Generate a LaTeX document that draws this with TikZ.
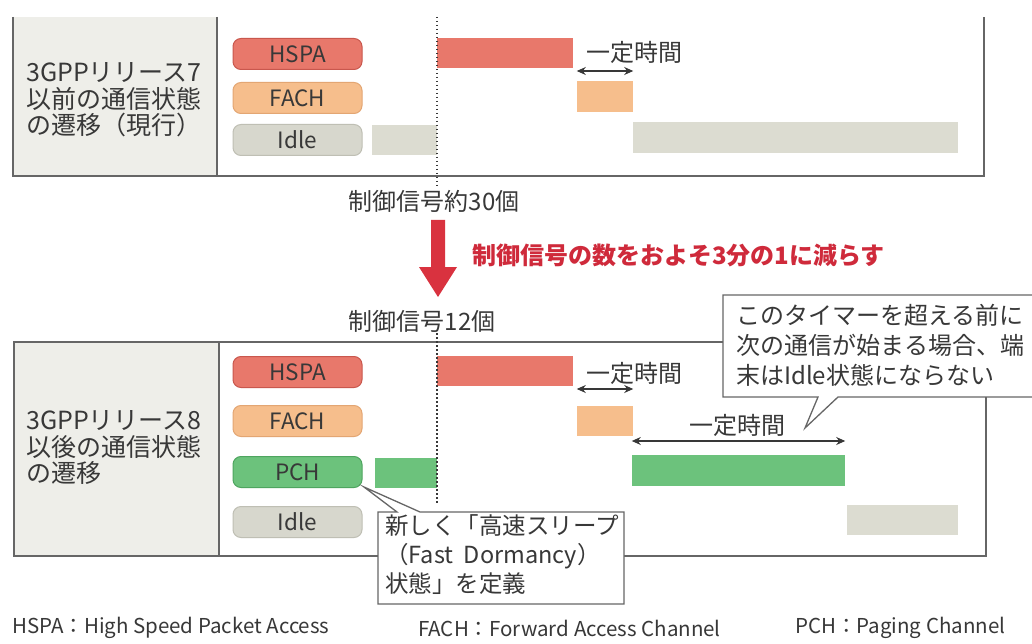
\documentclass[tikz,border=0pt]{standalone}
\usepackage{fontspec}
\setmainfont{Noto Sans CJK JP}
\usetikzlibrary{arrows.meta}
\newcommand\myfs[2]{\fontsize{#1}{#2}\selectfont}
\definecolor{txt}{HTML}{383838}
\definecolor{hspaC}{HTML}{E8786B}
\definecolor{hspaD}{HTML}{C9574D}
\definecolor{fachC}{HTML}{F6BE8C}
\definecolor{fachD}{HTML}{E3A673}
\definecolor{pchC}{HTML}{6CC27C}
\definecolor{pchD}{HTML}{4EA55F}
\definecolor{idleC}{HTML}{D7D7CD}
\definecolor{idleD}{HTML}{BFBFB4}
\definecolor{idleB}{HTML}{DCDCD1}
\definecolor{labelbg}{HTML}{EEEEE9}
\definecolor{frame}{HTML}{666666}
\definecolor{redA}{HTML}{D9323F}
\definecolor{redT}{HTML}{CF2A3B}
\begin{document}
\begin{tikzpicture}[x=1pt,y=-1pt,
  frameline/.style={draw=frame, line width=1.4pt},
  dotline/.style={draw=txt, line width=1.3pt, dash pattern=on 1.5pt off 2.5pt},
  chip/.style={rounded corners=8pt, minimum width=129pt, minimum height=31pt, inner sep=0pt, line width=1pt, font=\myfs{22.5}{22.5}, text=txt},
  bar/.style={inner sep=0pt, draw=none},
  lbl/.style={align=left, font=\myfs{25}{26.5}, text=txt, inner sep=0pt},
  jt/.style={font=\myfs{24}{28}, text=txt, inner sep=0pt},
  redtext/.style={font=\bfseries\myfs{24}{28}, text=redT, inner sep=0pt},
  dbl/.style={{Stealth[length=9pt,width=8pt]}-{Stealth[length=9pt,width=8pt]}, draw=txt, line width=1.1pt},
  callout/.style={draw=frame, fill=white, line width=1.3pt, line join=miter},
  foot/.style={font=\myfs{20.5}{22}, text=txt, inner sep=0pt}
]
\useasboundingbox (0,0) rectangle (1032,644);
\clip (0,0) rectangle (1032,644);
\fill[white] (0,0) rectangle (1032,644);

% ---------- top panel ----------
\fill[labelbg] (13,17) rectangle (217,176);
\draw[frameline] (13,17) -- (13,176) -- (984,176) -- (984,17);
\draw[frameline] (217,17) -- (217,176);
\node[lbl, anchor=west] (tlabel) at (26,100) {3GPPリリース7\\以前の通信状態\\の遷移（現行）};

\node[chip, fill=hspaC, draw=hspaD] (tc-hspa) at (297.5,54) {HSPA};
\node[chip, fill=fachC, draw=fachD] (tc-fach) at (297.5,98) {FACH};
\node[chip, fill=idleC, draw=idleD] (tc-idle) at (297.5,140) {Idle};

\node[bar, fill=idleB, minimum width=65pt, minimum height=30pt] (t-idle1) at (404.5,140) {};
\node[bar, fill=hspaC, minimum width=136pt, minimum height=30pt] (t-hspa) at (505,53) {};
\node[bar, fill=fachC, minimum width=56pt, minimum height=31pt] (t-fach) at (605,96.5) {};
\node[bar, fill=idleB, minimum width=325pt, minimum height=31pt] (t-idle2) at (795.5,138) {};

\draw[dotline] (437,17) -- (437,187);
\draw[dbl] (t-fach.west |- 0,71) -- (t-fach.east |- 0,71);
\node[jt] (t-time) at (634,52) {一定時間};

% ---------- middle ----------
\node[jt] (sig30) at (434,201) {制御信号約30個};
\fill[redA] (431,220) -- (445,220) -- (445,267) -- (457,267) -- (438,297) -- (419,267) -- (431,267) -- cycle;
\node[redtext, anchor=west] (reduce) at (472,255) {制御信号の数をおよそ3分の1に減らす};
\node[jt] (sig12) at (422,321) {制御信号12個};

% ---------- bottom panel ----------
\fill[labelbg] (14,342) rectangle (219,556);
\draw[frameline] (14,342) rectangle (986,556);
\draw[frameline] (219,342) -- (219,556);
\node[lbl, anchor=west] (blabel) at (26,448) {3GPPリリース8\\以後の通信状態\\の遷移};

\node[chip, fill=hspaC, draw=hspaD] (bc-hspa) at (297.5,372) {HSPA};
\node[chip, fill=fachC, draw=fachD] (bc-fach) at (297.5,421) {FACH};
\node[chip, fill=pchC, draw=pchD] (bc-pch) at (297.5,472) {PCH};
\node[chip, fill=idleC, draw=idleD] (bc-idle) at (297.5,522) {Idle};

\node[bar, fill=pchC, minimum width=62pt, minimum height=30pt] (b-pch1) at (406,472.5) {};
\node[bar, fill=hspaC, minimum width=136pt, minimum height=30pt] (b-hspa) at (505,371) {};
\node[bar, fill=fachC, minimum width=56pt, minimum height=30pt] (b-fach) at (605,421) {};
\node[bar, fill=pchC, minimum width=213pt, minimum height=31pt] (b-pch2) at (738.5,470.5) {};
\node[bar, fill=idleB, minimum width=111pt, minimum height=30pt] (b-idle) at (902.5,520) {};

\draw[dotline] (437,333) -- (437,503);
\draw[dbl] (b-fach.west |- 0,389) -- (b-fach.east |- 0,389);
\node[jt] (b-time1) at (634,373) {一定時間};
\draw[dbl] (b-pch2.west |- 0,441) -- (b-pch2.east |- 0,441);
\node[jt] (b-time2) at (737,425) {一定時間};

% ---------- callouts ----------
\draw[callout] (723,295) -- (1045,295) -- (1045,397) -- (838,397) -- (805,428) -- (818,397) -- (723,397) -- cycle;
\node[align=left, font=\myfs{24}{30}, text=txt, inner sep=0pt, anchor=west] (note1) at (736,345) {このタイマーを超える前に\\次の通信が始まる場合、端\\末はIdle状態にならない};
\draw[frameline] (986,397) -- (986,556);

\draw[callout] (378,512) -- (397,512) -- (364,487) -- (420,512) -- (624,512) -- (624,604) -- (378,604) -- cycle;
\node[align=left, font=\myfs{23.5}{29}, text=txt, inner sep=0pt, anchor=west] (note2) at (385,555) {新しく「高速スリープ\\（Fast\ \ Dormancy）\\状態」を定義};

% ---------- footer ----------
\node[foot, anchor=west] (f1) at (12,628) {HSPA：High Speed Packet Access};
\node[foot, anchor=west] (f2) at (418,628) {FACH：Forward Access Channel};
\node[foot, anchor=west] (f3) at (795,628) {PCH：Paging Channel};
\end{tikzpicture}
\end{document}
